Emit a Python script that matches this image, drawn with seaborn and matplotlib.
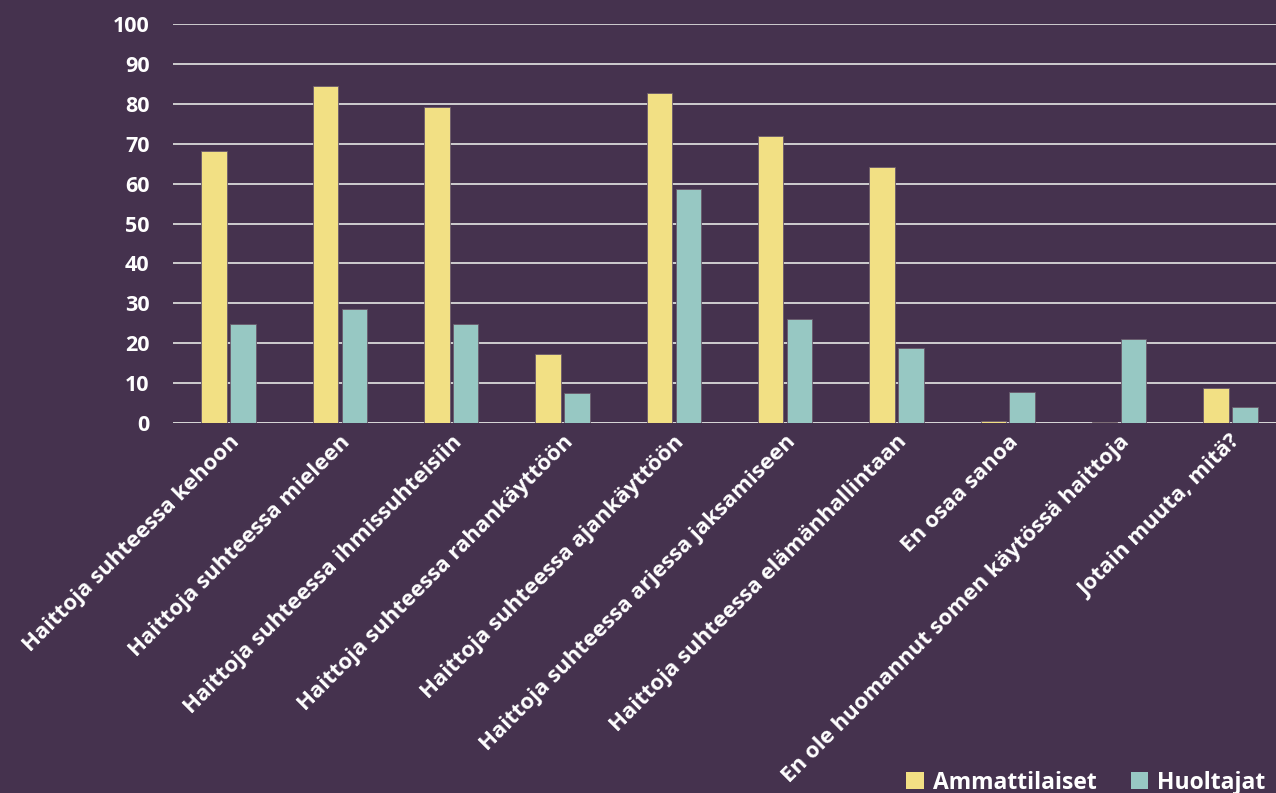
import pandas as pd
import matplotlib
matplotlib.use("Agg")
import matplotlib.pyplot as plt
import seaborn as sns
from matplotlib.patches import Patch

# data
categories = [
    "Haittoja suhteessa kehoon",
    "Haittoja suhteessa mieleen",
    "Haittoja suhteessa ihmissuhteisiin",
    "Haittoja suhteessa rahankäyttöön",
    "Haittoja suhteessa ajankäyttöön",
    "Haittoja suhteessa arjessa jaksamiseen",
    "Haittoja suhteessa elämänhallintaan",
    "En osaa sanoa",
    "En ole huomannut somen käytössä haittoja",
    "Jotain muuta, mitä?",
]
ammattilaiset = [68.2, 84.5, 79.2, 17.3, 82.8, 72.0, 64.2, 0.5, 0.3, 8.7]
huoltajat = [24.8, 28.6, 24.8, 7.5, 58.6, 26.1, 18.8, 7.7, 21.0, 4.1]
series = ["Ammattilaiset", "Huoltajat"]

bg = "#45324E"
colors = ["#F2E084", "#97C8C3"]

df = pd.DataFrame({
    "kategoria": categories * 2,
    "arvo": ammattilaiset + huoltajat,
    "ryhmä": [series[0]] * len(categories) + [series[1]] * len(categories),
})

sns.set_theme(style="dark")
plt.rcParams["font.family"] = ["Open Sans", "DejaVu Sans"]

fig = plt.figure(figsize=(12.76, 7.93), dpi=100, facecolor=bg)
ax = fig.add_axes([173 / 1276, 370 / 793, 1113 / 1276, 399 / 793])
ax.set_facecolor(bg)

sns.barplot(data=df, x="kategoria", y="arvo", hue="ryhmä", palette=colors,
            saturation=1, width=0.52, gap=0.12, edgecolor="#6a5a6c",
            linewidth=0.6, ax=ax, legend=False)

ax.set_ylim(0, 100)
ax.set_yticks(range(0, 101, 10))
ax.set_xlim(-0.5, len(categories) - 0.5)
ax.yaxis.grid(True, color="#D9D9D9", linewidth=1.3)
ax.set_axisbelow(True)
for s in ax.spines.values():
    s.set_visible(False)
ax.axhline(0, color="#D9D9D9", linewidth=1.8, zorder=0.5)

ax.set_xlabel("")
ax.set_ylabel("")
ax.tick_params(axis="y", length=0, pad=17, labelsize=15.5, labelcolor="white")
ax.tick_params(axis="x", length=0, pad=6, labelcolor="white")
ax.set_xticks(range(len(categories)))
ax.set_xticklabels(categories, rotation=45, ha="right", rotation_mode="anchor")
for t in ax.get_yticklabels():
    t.set_fontweight("bold")
for t in ax.get_xticklabels():
    t.set_fontweight("bold")
    t.set_fontsize(16)

handles = [Patch(facecolor=c, edgecolor="none") for c in colors]
fig.legend(handles, series, loc="lower right", bbox_to_anchor=(1.008, -0.028),
           ncol=2, frameon=False, handlelength=0.75, handleheight=0.75,
           handletextpad=0.4, columnspacing=1.5,
           prop={"weight": "bold", "size": 16.5}, labelcolor="white")

fig.savefig("out.png", dpi=100, facecolor=bg)
